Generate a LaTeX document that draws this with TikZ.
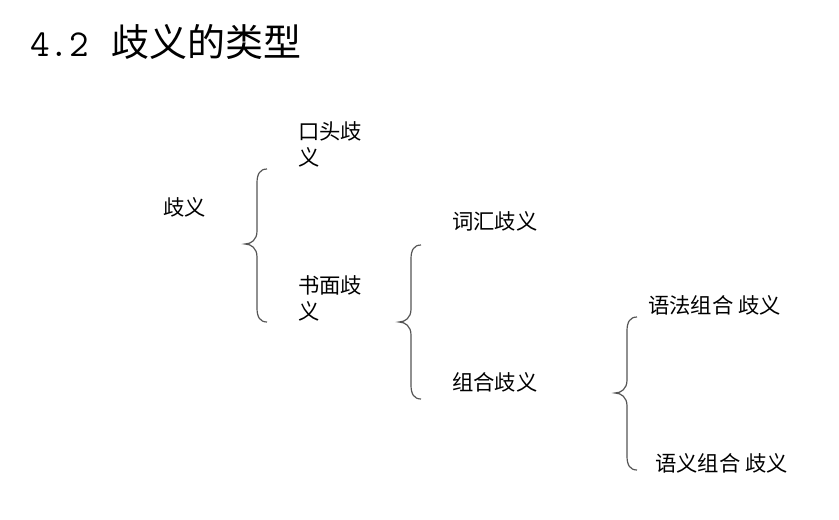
\documentclass[tikz,border=0pt]{standalone}
\usepackage{fontspec}
\newfontfamily\cjk{Noto Sans CJK SC}
\usetikzlibrary{positioning}
\definecolor{braceGray}{RGB}{85,85,85}

\tikzset{
  titletext/.style={font=\cjk\fontsize{28.5}{30}\selectfont,inner sep=0pt,anchor=west},
  leaftext/.style={font=\cjk\fontsize{16}{19.5}\selectfont,inner sep=0pt,anchor=west,align=left},
  braceline/.style={draw=braceGray,line width=0.9pt},
}
% left curly brace: tip x, top y, middle y, bottom y
\newcommand{\leftbrace}[4]{%
  \draw[braceline] (#1+22,#2) .. controls (#1+15,#2) and (#1+12,#2+5) .. (#1+12,#2+14)
    -- (#1+12,#3-13) .. controls (#1+12,#3-4) and (#1+6,#3) .. (#1,#3)
    .. controls (#1+6,#3) and (#1+12,#3+4) .. (#1+12,#3+13)
    -- (#1+12,#4-14) .. controls (#1+12,#4-5) and (#1+15,#4) .. (#1+22,#4);}

\begin{document}
\begin{tikzpicture}[x=0.75pt,y=-0.75pt]
\useasboundingbox (0,0) rectangle (839,519);

\node[titletext] (title) at (30,42) {{\ttfamily 4.2}\hspace{0.6em}歧义的类型};

% first level
\node[leaftext] (root) at (163,207) {歧义};
\leftbrace{245}{169}{244}{322}
\node[leaftext] (oral) at (298,144) {口头歧\\义};
\node[leaftext] (written) at (298,298) {书面歧\\义};

% second level
\leftbrace{399}{245}{322}{399}
\node[leaftext] (lexical) at (452,221) {词汇歧义};
\node[leaftext] (combo) at (452,382) {组合歧义};

% third level
\leftbrace{615}{317}{393}{470}
\node[leaftext] (grammar) at (648,305) {语法组合 歧义};
\node[leaftext] (semantic) at (655,463) {语义组合 歧义};
\end{tikzpicture}
\end{document}
